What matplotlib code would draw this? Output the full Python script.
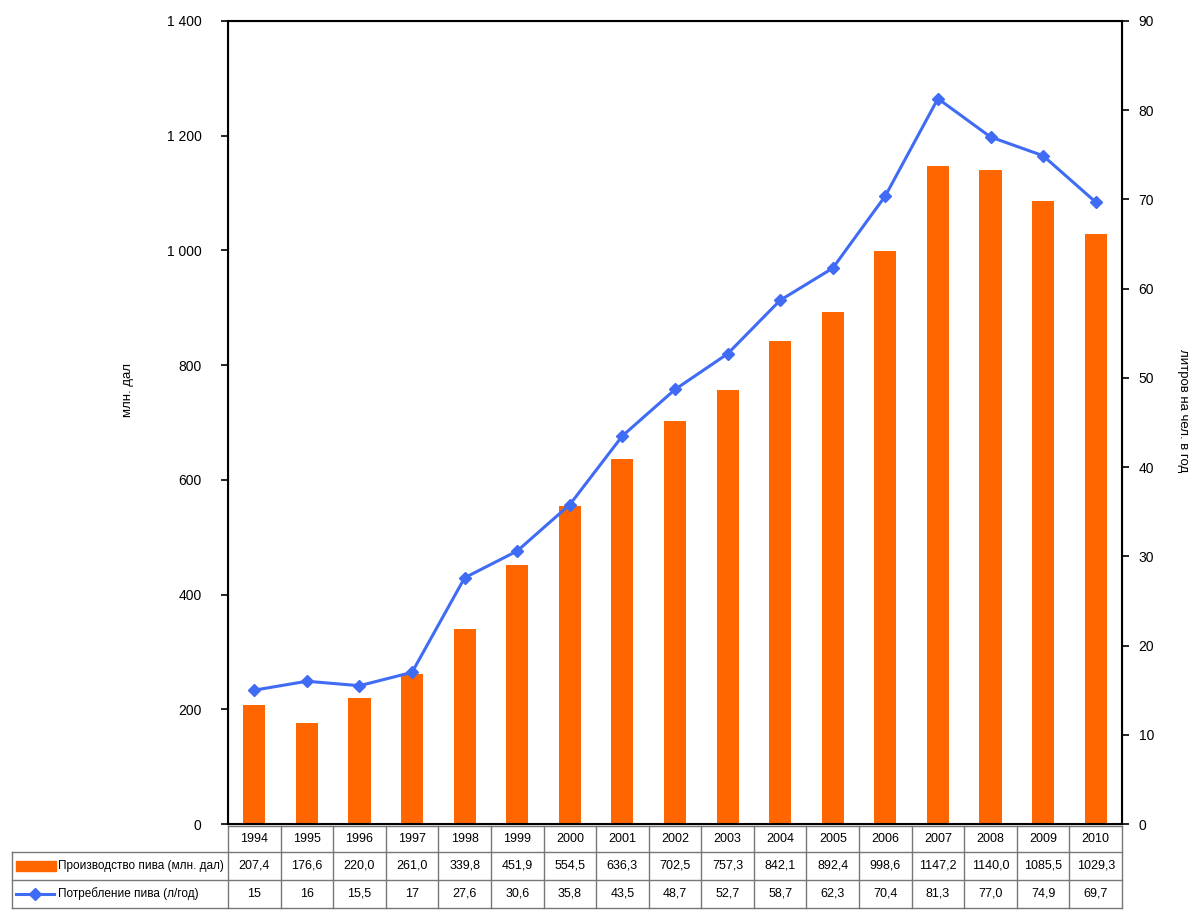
import numpy as np
import matplotlib.pyplot as plt
from matplotlib.lines import Line2D
from matplotlib.patches import Rectangle

years = ['1994', '1995', '1996', '1997', '1998', '1999', '2000', '2001', '2002',
         '2003', '2004', '2005', '2006', '2007', '2008', '2009', '2010']
production = [207.4, 176.6, 220.0, 261.0, 339.8, 451.9, 554.5, 636.3, 702.5,
              757.3, 842.1, 892.4, 998.6, 1147.2, 1140.0, 1085.5, 1029.3]
consumption = [15, 16, 15.5, 17, 27.6, 30.6, 35.8, 43.5, 48.7,
               52.7, 58.7, 62.3, 70.4, 81.3, 77.0, 74.9, 69.7]
prod_labels = ['207,4', '176,6', '220,0', '261,0', '339,8', '451,9', '554,5', '636,3', '702,5',
               '757,3', '842,1', '892,4', '998,6', '1147,2', '1140,0', '1085,5', '1029,3']
cons_labels = ['15', '16', '15,5', '17', '27,6', '30,6', '35,8', '43,5', '48,7',
               '52,7', '58,7', '62,3', '70,4', '81,3', '77,0', '74,9', '69,7']
left_ticks = [0, 200, 400, 600, 800, 1000, 1200, 1400]
left_tick_labels = ['0', '200', '400', '600', '800', '1 000', '1 200', '1 400']

orange = '#FF6600'
blue = '#3F6BF5'
plt.rcParams['font.family'] = ['Liberation Sans', 'DejaVu Sans']

W, H = 1191, 910
fig = plt.figure(figsize=(W / 100, H / 100), dpi=100)
L, R, T, B = 228, 1122, 21, 824
ax = fig.add_axes([L / W, 1 - B / H, (R - L) / W, (B - T) / H])
n = len(years)
x = np.arange(n)

ax.bar(x, production, width=0.42, color=orange, zorder=2)
ax.set_xlim(-0.5, n - 0.5)
ax.set_ylim(0, 1400)
ax.set_yticks(left_ticks)
ax.set_yticklabels(left_tick_labels, fontsize=10)
ax.set_xticks([])
ax.tick_params(axis='y', length=5, width=1.2, pad=14)
ax.set_ylabel('млн. дал', fontsize=9.5, va='center')
ax.yaxis.set_label_coords(-0.112, 0.54)
for s in ax.spines.values():
    s.set_linewidth(1.5)

ax2 = ax.twinx()
ax2.plot(x, consumption, color=blue, lw=2.2, marker='D', ms=6, zorder=3)
ax2.set_ylim(0, 90)
ax2.set_yticks(range(0, 91, 10))
ax2.tick_params(axis='y', length=5, width=1.2, labelsize=10, pad=7)
ax2.set_ylabel('литров на чел. в год', fontsize=9.5, rotation=270, va='center')
ax2.yaxis.set_label_coords(1.068, 0.515)
ax2.set_xlim(-0.5, n - 0.5)

# data table under the chart
cw = (R - L) / n
rows_y = [826, 852, 880, 908]
grid = '#777777'
def fx(px):
    return px / W
def fy(py):
    return 1 - py / H

for k in range(n + 1):
    fig.add_artist(Line2D([fx(L + k * cw)] * 2, [fy(rows_y[0]), fy(rows_y[3])], color=grid, lw=1))
fig.add_artist(Line2D([fx(L), fx(R)], [fy(rows_y[0]), fy(rows_y[0])], color=grid, lw=1))
for yy in rows_y[1:]:
    fig.add_artist(Line2D([fx(12), fx(R)], [fy(yy), fy(yy)], color=grid, lw=1))
fig.add_artist(Line2D([fx(12), fx(12)], [fy(rows_y[1]), fy(rows_y[3])], color=grid, lw=1))

for i in range(n):
    cx = fx(L + (i + 0.5) * cw)
    fig.text(cx, fy((rows_y[0] + rows_y[1]) / 2), years[i], ha='center', va='center', fontsize=9)
    fig.text(cx, fy((rows_y[1] + rows_y[2]) / 2), prod_labels[i], ha='center', va='center', fontsize=9)
    fig.text(cx, fy((rows_y[2] + rows_y[3]) / 2), cons_labels[i], ha='center', va='center', fontsize=9)

# row labels with legend keys
fig.add_artist(Rectangle((fx(16), fy(871)), fx(40), 10 / H, color=orange))
fig.text(fx(58), fy(866), 'Производство пива (млн. дал)', ha='left', va='center', fontsize=8.5)
fig.add_artist(Line2D([fx(16), fx(54)], [fy(894), fy(894)], color=blue, lw=2.2))
fig.add_artist(Line2D([fx(35)], [fy(894)], color=blue, marker='D', ms=6))
fig.text(fx(58), fy(894), 'Потребление пива (л/год)', ha='left', va='center', fontsize=8.5)

fig.savefig('out.png', dpi=100)
